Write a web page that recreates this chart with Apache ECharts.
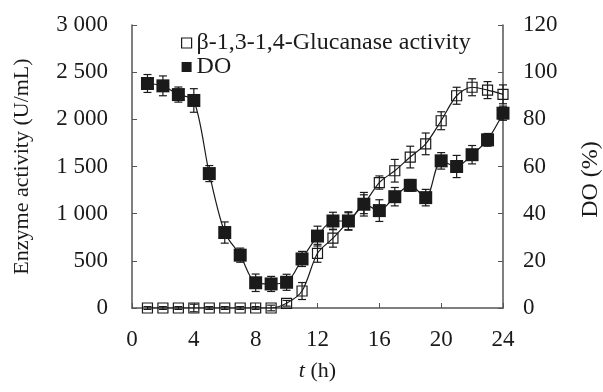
<!DOCTYPE html>
<html>
<head>
<meta charset="utf-8">
<script src="https://cdn.jsdelivr.net/npm/echarts@6/dist/echarts.min.js"></script>
<style>
  html, body { margin: 0; padding: 0; background: #fff; }
  #chart { width: 603px; height: 392px; }
</style>
</head>
<body>
<div id="chart"></div>
<script>
// hourly sampling, 1..24 h
const hours = [1, 2, 3, 4, 5, 6, 7, 8, 9, 10, 11, 12, 13, 14, 15, 16, 17, 18, 19, 20, 21, 22, 23, 24];

// enzyme activity (U/mL), left axis
const glucanase = [0, 0, 0, 0, 0, 0, 0, 0, 0, 50, 180, 580, 740, 920, 1100, 1330, 1455, 1600, 1740, 1985, 2250, 2340, 2310, 2265];
const glucanaseErr = [15, 15, 15, 40, 15, 15, 15, 15, 30, 30, 90, 95, 95, 90, 100, 70, 120, 115, 115, 95, 90, 90, 90, 100];

// dissolved oxygen (%), right axis
const dissolvedO2 = [95.2, 94.2, 90.5, 88.0, 57.0, 32.0, 22.4, 10.7, 10.2, 10.9, 20.8, 30.5, 36.9, 36.9, 44.0, 41.3, 47.2, 52.0, 46.8, 62.4, 60.0, 65.0, 71.3, 82.6];
const dissolvedO2Err = [3.8, 4.2, 3.2, 5.0, 3.4, 4.5, 3.0, 3.7, 3.2, 3.4, 3.2, 4.2, 3.7, 3.9, 5.0, 4.6, 3.9, 2.5, 3.5, 3.5, 4.7, 3.9, 2.7, 3.0];

const FONT = 'Liberation Serif, Times New Roman, DejaVu Serif, serif';
const INK = '#1a1a1a';
const AXIS = '#555';
const TICK_FS = 23;

const chart = echarts.init(document.getElementById('chart'));

function errorBars(values, errs) {
  return hours.map((h, i) => [h, values[i] - errs[i], values[i] + errs[i]]);
}

function renderErr(params, api) {
  const lo = api.coord([api.value(0), api.value(1)]);
  const hi = api.coord([api.value(0), api.value(2)]);
  const cap = 4;
  const style = { stroke: INK, lineWidth: 1.2, fill: null };
  return {
    type: 'group',
    children: [
      { type: 'line', shape: { x1: lo[0], y1: lo[1], x2: hi[0], y2: hi[1] }, style },
      { type: 'line', shape: { x1: lo[0] - cap, y1: lo[1], x2: lo[0] + cap, y2: lo[1] }, style },
      { type: 'line', shape: { x1: hi[0] - cap, y1: hi[1], x2: hi[0] + cap, y2: hi[1] }, style }
    ]
  };
}

chart.setOption({
  animation: false,
  textStyle: { fontFamily: FONT, color: INK },
  grid: { left: 132, right: 100, top: 25, bottom: 84, outerBoundsMode: 'none' },
  legend: {
    left: 176,
    top: 26,
    orient: 'vertical',
    itemGap: 0,
    itemWidth: 10,
    itemHeight: 10,
    textStyle: { fontFamily: FONT, fontSize: 24, color: INK },
    data: [
      { name: 'β-1,3-1,4-Glucanase activity', icon: 'rect', itemStyle: { color: '#fff', borderColor: INK, borderWidth: 1.2 } },
      { name: 'DO', icon: 'rect', itemStyle: { color: INK, borderWidth: 0 } }
    ]
  },
  xAxis: {
    type: 'value',
    min: 0,
    max: 24,
    interval: 4,
    name: '{i|t} (h)',
    nameLocation: 'middle',
    nameGap: 52,
    nameTextStyle: {
      fontFamily: FONT, fontSize: 22, color: INK,
      rich: { i: { fontFamily: FONT, fontSize: 22, fontStyle: 'italic', color: INK } }
    },
    axisLine: { lineStyle: { color: AXIS, width: 1.5 } },
    axisTick: { inside: true, length: 5, lineStyle: { color: AXIS } },
    axisLabel: { fontFamily: FONT, fontSize: TICK_FS, color: INK, margin: 20 },
    splitLine: { show: false }
  },
  yAxis: [
    {
      type: 'value',
      min: 0,
      max: 3000,
      interval: 500,
      name: 'Enzyme activity (U/mL)',
      nameLocation: 'middle',
      nameRotate: 90,
      nameGap: 99,
      nameTextStyle: { fontFamily: FONT, fontSize: 22, color: INK },
      axisLine: { show: true, lineStyle: { color: AXIS, width: 1.5 } },
      axisTick: { show: true, inside: true, length: 5, lineStyle: { color: AXIS } },
      axisLabel: {
        fontFamily: FONT, fontSize: TICK_FS, color: INK, margin: 24,
        formatter: v => v >= 1000 ? Math.floor(v / 1000) + ' ' + String(v % 1000).padStart(3, '0') : String(v)
      },
      splitLine: { show: false }
    },
    {
      type: 'value',
      min: 0,
      max: 120,
      interval: 20,
      position: 'right',
      name: 'DO (%)',
      nameLocation: 'middle',
      nameRotate: 90,
      nameGap: 76,
      nameTextStyle: { fontFamily: FONT, fontSize: 24, color: INK, padding: [0, 26, 0, 0] },
      axisLine: { show: true, lineStyle: { color: AXIS, width: 1.5 } },
      axisTick: { show: true, inside: true, length: 5, lineStyle: { color: AXIS } },
      axisLabel: { fontFamily: FONT, fontSize: TICK_FS, color: INK, margin: 20 },
      splitLine: { show: false }
    }
  ],
  series: [
    {
      type: 'custom',
      yAxisIndex: 0,
      renderItem: renderErr,
      encode: { x: 0, y: [1, 2] },
      data: errorBars(glucanase, glucanaseErr),
      z: 1
    },
    {
      type: 'custom',
      yAxisIndex: 1,
      renderItem: renderErr,
      encode: { x: 0, y: [1, 2] },
      data: errorBars(dissolvedO2, dissolvedO2Err),
      z: 1
    },
    {
      name: 'β-1,3-1,4-Glucanase activity',
      type: 'line',
      yAxisIndex: 0,
      smooth: 0.3,
      symbol: 'rect',
      symbolSize: 10,
      data: hours.map((h, i) => [h, glucanase[i]]),
      lineStyle: { color: INK, width: 1.2 },
      itemStyle: { color: 'rgba(255,255,255,0)', borderColor: INK, borderWidth: 1.2 },
      z: 3
    },
    {
      name: 'DO',
      type: 'line',
      yAxisIndex: 1,
      smooth: 0.3,
      symbol: 'rect',
      symbolSize: 13,
      data: hours.map((h, i) => [h, dissolvedO2[i]]),
      lineStyle: { color: INK, width: 1.2 },
      itemStyle: { color: INK, borderWidth: 0 },
      z: 4
    }
  ]
});
</script>
</body>
</html>
